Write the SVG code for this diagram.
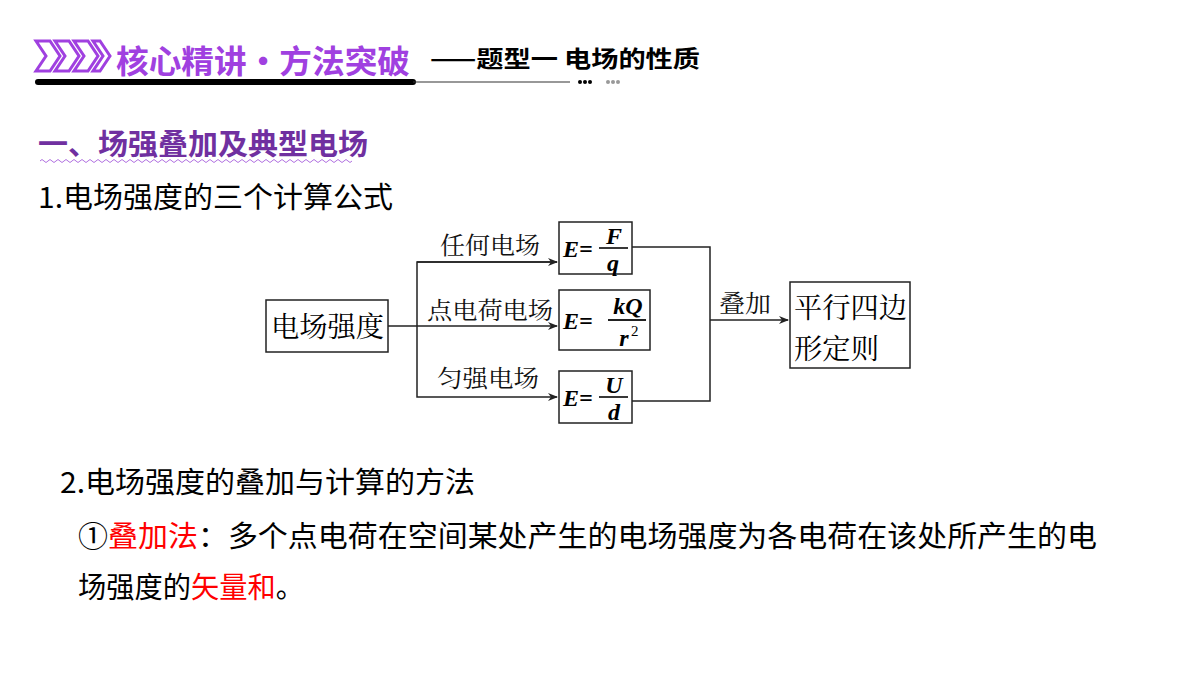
<svg xmlns="http://www.w3.org/2000/svg" width="1200" height="675" viewBox="0 0 1200 675">
<defs>
<marker id="ar" markerWidth="10" markerHeight="8" refX="9" refY="4" orient="auto" markerUnits="userSpaceOnUse"><path d="M0,0 L10,4 L0,8 L3,4 Z" fill="#222"/></marker>
<style>
.cn{font-family:"Noto Sans CJK SC","Noto Sans",sans-serif}
.sr{font-family:"Noto Serif CJK SC","Noto Sans CJK SC",serif}
.m{font-family:"Liberation Serif",serif;font-style:italic;font-weight:bold}
.bx{fill:#fff;stroke:#222;stroke-width:1.5}
.ln{fill:none;stroke:#222;stroke-width:1.5}
</style>
</defs>
<rect width="1200" height="675" fill="#fff"/>
<g id="header">
<g fill="none" stroke="#a040e0" stroke-width="3">
<path d="M36,41 L50,41 L60,56 L50,71 L36,71 L46,56 Z"/>
<path d="M55,41 L69,41 L79,56 L69,71 L55,71 L65,56 Z"/>
<path d="M74,41 L88,41 L98,56 L88,71 L74,71 L84,56 Z"/>
<path d="M93,41 L100,41 L110,56 L100,71 L93,71 L103,56 Z"/>
</g>
<text x="116" y="73" class="cn" font-size="32" font-weight="bold" fill="#a040e0" textLength="294" lengthAdjust="spacingAndGlyphs">核心精讲·方法突破</text>
<text x="430" y="67" class="cn" font-size="23" font-weight="bold" fill="#000" textLength="270" lengthAdjust="spacingAndGlyphs">——题型一  电场的性质</text>
<line x1="38" y1="82" x2="413" y2="82" stroke="#000" stroke-width="6" stroke-linecap="round"/>
<line x1="413" y1="82" x2="570" y2="82" stroke="#333" stroke-width="1.2"/>
<g fill="#000"><circle cx="580" cy="82" r="2"/><circle cx="585" cy="82" r="2"/><circle cx="590" cy="82" r="2"/></g>
<g fill="#999"><circle cx="608" cy="82" r="2"/><circle cx="613" cy="82" r="2"/><circle cx="618" cy="82" r="2"/></g>
</g>
<text x="38" y="155" class="cn" font-size="29" font-weight="bold" fill="#7030a0" textLength="330" lengthAdjust="spacingAndGlyphs">一、场强叠加及典型电场</text>
<path d="M40,161 q2,-3 4,0 t4,0 t4,0 t4,0 t4,0 t4,0 t4,0 t4,0 t4,0 t4,0 t4,0 t4,0 t4,0 t4,0 t4,0 t4,0 t4,0 t4,0 t4,0 t4,0 t4,0 t4,0 t4,0 t4,0 t4,0 t4,0 t4,0 t4,0 t4,0 t4,0 t4,0 t4,0 t4,0 t4,0 t4,0 t4,0 t4,0 t4,0 t4,0 t4,0 t4,0 t4,0 t4,0 t4,0 t4,0 t4,0 t4,0 t4,0 t4,0 t4,0 t4,0 t4,0 t4,0 t4,0 t4,0 t4,0 t4,0 t4,0 t4,0 t4,0 t4,0 t4,0 t4,0 t4,0 t4,0 t4,0 t4,0 t4,0 t4,0 t4,0 t4,0 t4,0 t4,0 t4,0 t4,0 t4,0 t4,0 t4,0" fill="none" stroke="#b070e0" stroke-width="1"/>
<text x="38" y="208" class="cn" font-size="29" fill="#000" textLength="355" lengthAdjust="spacingAndGlyphs">1.电场强度的三个计算公式</text>
<g id="connectors" class="ln">
<line x1="388" y1="326" x2="557" y2="326" marker-end="url(#ar)"/>
<polyline points="557,262 417,262 417,397 557,397" marker-end="url(#ar)"/>
<line x1="417" y1="262" x2="557" y2="262" marker-end="url(#ar)"/>
<polyline points="632,247 710,247 710,401 632,401"/>
<line x1="710" y1="320" x2="788" y2="320" marker-end="url(#ar)"/>
</g>
<g class="sr" font-size="24" fill="#111">
<text x="440" y="254" textLength="100" lengthAdjust="spacingAndGlyphs">任何电场</text>
<text x="427" y="319" textLength="126" lengthAdjust="spacingAndGlyphs">点电荷电场</text>
<text x="437" y="387" textLength="102" lengthAdjust="spacingAndGlyphs">匀强电场</text>
<text x="719" y="312" textLength="52" lengthAdjust="spacingAndGlyphs">叠加</text>
</g>
<g id="n-field"><rect class="bx" x="266" y="300" width="122" height="52"/><text x="271" y="337" class="sr" font-size="28" textLength="113" lengthAdjust="spacingAndGlyphs">电场强度</text></g>
<g id="n-f1"><rect class="bx" x="559" y="222" width="73" height="52"/>
<text x="563" y="257" class="m" font-size="24">E=</text>
<line x1="599" y1="248" x2="628" y2="248" stroke="#222" stroke-width="1.8"/>
<text x="614" y="244" class="m" font-size="24" text-anchor="middle">F</text>
<text x="613" y="271" class="m" font-size="24" text-anchor="middle">q</text></g>
<g id="n-f2"><rect class="bx" x="559" y="290" width="91" height="60"/>
<text x="563" y="329" class="m" font-size="24">E=</text>
<line x1="608" y1="320" x2="646" y2="320" stroke="#222" stroke-width="1.8"/>
<text x="628" y="314" class="m" font-size="24" text-anchor="middle">kQ</text>
<text x="624" y="346" class="m" font-size="24" text-anchor="middle">r</text>
<text x="631" y="336" font-family="Liberation Serif,serif" font-size="15">2</text></g>
<g id="n-f3"><rect class="bx" x="559" y="371" width="73" height="52"/>
<text x="563" y="406" class="m" font-size="24">E=</text>
<line x1="599" y1="397" x2="628" y2="397" stroke="#222" stroke-width="1.8"/>
<text x="614" y="393" class="m" font-size="24" text-anchor="middle">U</text>
<text x="614" y="420" class="m" font-size="24" text-anchor="middle">d</text></g>
<g id="n-rule"><rect class="bx" x="790" y="282" width="120" height="86"/>
<text x="794" y="318" class="sr" font-size="28" textLength="113" lengthAdjust="spacingAndGlyphs">平行四边</text>
<text x="794" y="359" class="sr" font-size="28" textLength="85" lengthAdjust="spacingAndGlyphs">形定则</text></g>
<text x="60" y="493" class="cn" font-size="29" fill="#000" textLength="415" lengthAdjust="spacingAndGlyphs">2.电场强度的叠加与计算的方法</text>
<text x="78" y="547" class="cn" font-size="29" fill="#000" textLength="1019" lengthAdjust="spacingAndGlyphs">①<tspan fill="#ff0000">叠加法</tspan>：多个点电荷在空间某处产生的电场强度为各电荷在该处所产生的电</text>
<text x="78" y="598" class="cn" font-size="29" fill="#000" textLength="226" lengthAdjust="spacingAndGlyphs">场强度的<tspan fill="#ff0000">矢量和</tspan>。</text>
</svg>
